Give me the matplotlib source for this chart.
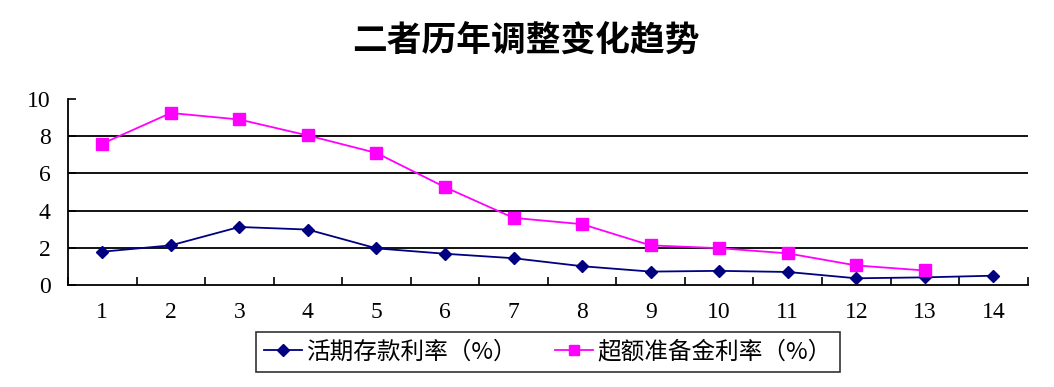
import numpy as np
import matplotlib
matplotlib.use("Agg")
import matplotlib.pyplot as plt
from matplotlib.lines import Line2D

plt.rcParams['font.family'] = ['Noto Sans CJK SC', 'DejaVu Sans']

categories = [str(i) for i in range(1, 15)]
demand_rate = [1.79, 2.13, 3.12, 2.98, 1.97, 1.68, 1.44, 1.01, 0.72, 0.76, 0.70, 0.36, 0.41, 0.50]
excess_rate = [7.60, 9.25, 8.90, 8.04, 7.10, 5.26, 3.61, 3.27, 2.13, 1.98, 1.70, 1.05, 0.78]
label_demand = '活期存款利率（%）'
label_excess = '超额准备金利率（%）'
title = '二者历年调整变化趋势'

fig = plt.figure(figsize=(10.54, 3.87), dpi=100)
ax = fig.add_axes([0.0645, 0.2636, 0.9105, 0.4805])

x_demand = np.arange(len(demand_rate))
x_excess = np.arange(len(excess_rate))

ax.plot(x_demand, demand_rate, color='#000080', lw=1.3, marker='D', ms=6.5,
        markerfacecolor='#000080', markeredgecolor='#000080')
ax.plot(x_excess, excess_rate, color='#FF00FF', lw=1.3, marker='s', ms=8.5,
        markerfacecolor='#FF00FF', markeredgecolor='#FF00FF')

ax.set_xlim(-0.5, len(categories) - 0.5)
ax.set_ylim(0, 10)

for yv in [2, 4, 6, 8]:
    ax.axhline(yv, color='black', lw=1.3, zorder=0)

ax.spines['top'].set_visible(False)
ax.spines['right'].set_visible(False)
for s in ['left', 'bottom']:
    ax.spines[s].set_linewidth(1.3)

ax.set_xticks(np.arange(-0.5, len(categories)), minor=False)
ax.set_xticklabels([])
ax.set_xticks(np.arange(len(categories)), minor=True)
ax.set_xticklabels(categories, minor=True, family='Liberation Serif', fontsize=17)
ax.tick_params(axis='x', which='major', direction='in', length=6, width=1.2)
ax.tick_params(axis='x', which='minor', length=0, pad=12.5)

ax.set_yticks([0, 2, 4, 6, 8, 10])
ax.set_yticklabels(['0', '2', '4', '6', '8', '10'], family='Liberation Serif', fontsize=17)
ax.tick_params(axis='y', direction='in', length=6, width=1.2, pad=12.5)

fig.text(0.499, 0.893, title, ha='center', va='center', fontsize=25, fontweight='bold')

handles = [
    Line2D([], [], color='#000080', lw=1.3, marker='D', ms=6, markerfacecolor='#000080'),
    Line2D([], [], color='#FF00FF', lw=1.3, marker='s', ms=7, markerfacecolor='#FF00FF'),
]
leg = fig.legend(handles, [label_demand, label_excess], loc='center',
                 bbox_to_anchor=(0.520, 0.0904), ncol=2, fontsize=17, frameon=True,
                 fancybox=False, edgecolor='black', handlelength=1.6, handletextpad=0.2,
                 columnspacing=1.6, borderpad=0.35, borderaxespad=0)
leg.get_frame().set_linewidth(1.2)

fig.savefig('out.png', dpi=100)
